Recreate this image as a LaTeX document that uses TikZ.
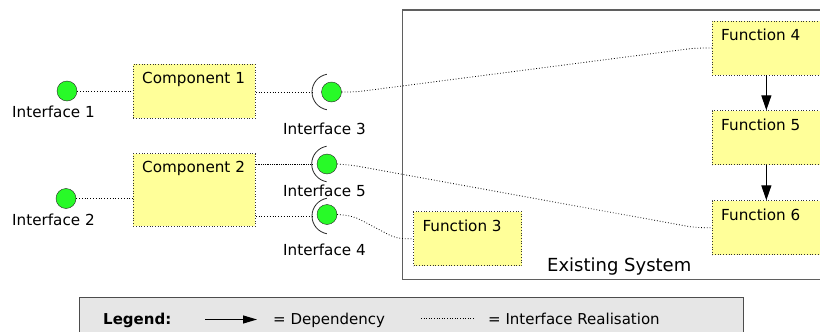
\documentclass[tikz,border=0pt]{standalone}
\usepackage{fontspec}
\setmainfont{DejaVu Sans}
\usetikzlibrary{arrows.meta,positioning}
\definecolor{boxyellow}{RGB}{255,255,153}
\definecolor{ballgreen}{RGB}{40,250,40}
\definecolor{legendgrey}{RGB}{230,230,230}
\definecolor{framegrey}{RGB}{95,95,95}

\tikzset{
  unit/.style={draw=black!80, dotted, line width=0.7pt, fill=boxyellow, anchor=north west,
    inner sep=0pt, minimum width=108pt, minimum height=54pt},
  title/.style={anchor=north west, inner xsep=9pt, inner ysep=8pt, solid},
  ball/.style={circle, draw=black!85, fill=ballgreen, minimum size=20pt, inner sep=0pt},
  socket/.style={draw=black!85, line width=0.8pt},
  realise/.style={dotted, draw=black, line width=0.8pt, rounded corners=8pt},
  depends/.style={line width=1.2pt, -{Triangle[length=15pt,width=10pt]}},
  caption/.style={anchor=base west, inner sep=0pt}
}

\begin{document}
\begin{tikzpicture}[x=1pt,y=-1pt,font=\fontsize{15.2}{18}\selectfont]
\path[use as bounding box, clip] (0,0) rectangle (820,332);

% the system that is already there
\draw[framegrey, line width=1.2pt, fill=white] (402.5,10) rectangle (830,279.3);
\node[caption, font=\fontsize{18}{21}\selectfont] (sysname) at (547,271.7) {Existing System};

\node[unit, label={[title]north west:Function 4}] (f4) at (712,20.7) {};
\node[unit, label={[title]north west:Function 5}] (f5) at (712,110.3) {};
\node[unit, label={[title]north west:Function 6}] (f6) at (712,200.3) {};
\node[unit, label={[title]north west:Function 3}] (f3) at (413.3,211.3) {};

\draw[depends] (f4) -- (f5);
\draw[depends] (f5) -- (f6);

% components
\node[unit, minimum width=122pt, label={[title]north west:Component 1}] (comp1) at (133,64) {};
\node[unit, minimum width=122pt, minimum height=72.7pt, label={[title]north west:Component 2}] (comp2) at (133,153.3) {};

% provided / required interfaces
\node[ball] (int1) at (67,91) {};
\node[ball] (int2) at (66,198.5) {};
\node[ball] (int3) at (331.5,92) {};
\node[ball] (int5) at (327,164) {};
\node[ball] (int4) at (327,214.5) {};

\coordinate (s3) at (312,92);
\coordinate (s5) at (311.7,164);
\coordinate (s4) at (312,216);
\foreach \s in {s3,s5,s4}
  \draw[socket] (\s) arc[start angle=180, end angle=100, radius=18pt]
                (\s) arc[start angle=180, end angle=260, radius=18pt];

\node[caption] at (12,117.7) {Interface 1};
\node[caption] at (12,225.7) {Interface 2};
\node[caption] at (283,134) {Interface 3};
\node[caption] at (283,196.7) {Interface 5};
\node[caption] at (283,255) {Interface 4};

\draw[realise] (int1) -- (int1 -| comp1.west);
\draw[realise] (int2) -- (int2 -| comp2.west);
\draw[realise] (comp1.east |- s3) -- (s3);
\draw[realise, densely dotted] (comp2.east |- s5) -- (s5);
\draw[realise] (comp2.east |- s4) -- (s4);

\draw[realise] (int3.east) -- ++(14,0) -- ([xshift=-17pt]f4.west) -- (f4.west);
\draw[realise] (int5.east) -- ++(14,1) -- ([xshift=-17pt]f6.west) -- (f6.west);
\draw[realise] (int4.east) -- ++(16,1.5) -- ([xshift=-17pt]f3.west) -- (f3.west);

% legend
\draw[black!70, line width=1pt, fill=legendgrey] (79,297.3) rectangle (743,345);
\node[caption, font=\fontsize{15}{18}\selectfont\bfseries] (legend) at (103,324.3) {Legend:};
\coordinate (dep a) at (205,319.5);
\coordinate (dep b) at (257,319.5);
\draw[line width=1.1pt, -{Triangle[length=14pt,width=8pt]}] (dep a) -- (dep b);
\node[caption, font=\fontsize{15}{18}\selectfont] (deptext) at (273,324.3) {= Dependency};
\coordinate (rea a) at (421,318.5);
\coordinate (rea b) at (474,318.5);
\draw[dotted, line width=0.6pt] (rea a) -- (rea b);
\node[caption, font=\fontsize{15}{18}\selectfont] (reatext) at (488,324.3) {= Interface Realisation};
\end{tikzpicture}
\end{document}
